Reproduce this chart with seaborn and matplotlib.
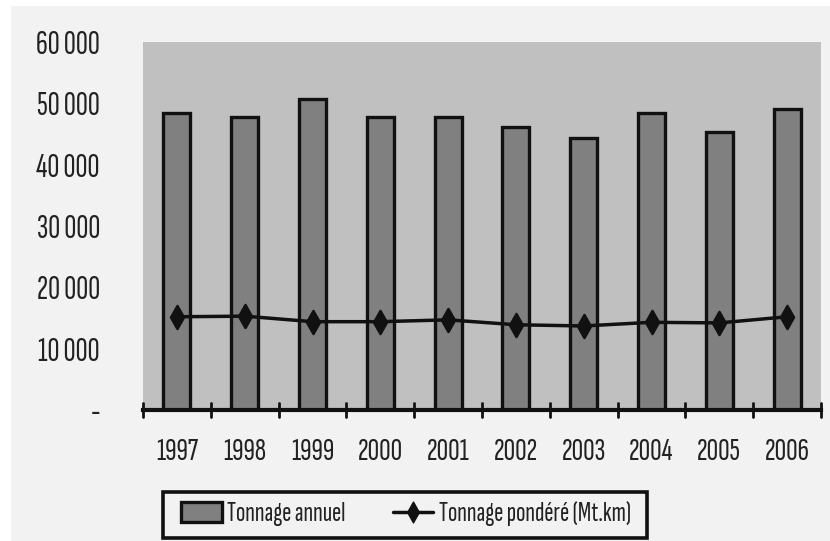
import matplotlib
matplotlib.use("Agg")
import matplotlib.pyplot as plt
import seaborn as sns
import pandas as pd
from matplotlib.patches import Rectangle, Patch
from matplotlib.lines import Line2D
from matplotlib.path import Path

years = ["1997", "1998", "1999", "2000", "2001", "2002", "2003", "2004", "2005", "2006"]
tonnage_annuel = [48400, 47800, 50700, 47800, 47800, 46100, 44300, 48400, 45300, 49100]
tonnage_pondere = [15200, 15300, 14400, 14400, 14700, 13900, 13700, 14300, 14200, 15200]
ytick_vals = [0, 10000, 20000, 30000, 40000, 50000, 60000]
ytick_labels = ["-", "10 000", "20 000", "30 000", "40 000", "50 000", "60 000"]

df = pd.DataFrame({"annee": years, "annuel": tonnage_annuel, "pondere": tonnage_pondere})

sns.set_theme(style="white")
plt.rcParams["font.family"] = ["Sofia Sans Extra Condensed", "DejaVu Sans"]

W, H = 830, 541
fig = plt.figure(figsize=(W / 100, H / 100), dpi=100, facecolor="white")
fig.patches.append(Rectangle((11 / W, 0), 1 - 11 / W, 1 - 6 / H,
                             transform=fig.transFigure, facecolor="#f2f2f2",
                             edgecolor="none", zorder=-10))
ax = fig.add_axes([143 / W, 1 - 410 / H, (821 - 143) / W, (410 - 42) / H])
ax.set_facecolor("#c0c0c0")

sns.barplot(data=df, x="annee", y="annuel", color="#808080", saturation=1,
            width=0.4, edgecolor="#111111", linewidth=2.4, ax=ax, zorder=2)
n_before = len(ax.lines)
sns.pointplot(data=df, x="annee", y="pondere", color="#111111",
              linewidth=2.5, ax=ax, zorder=3)
diamond = Path([(0, 1), (0.56, 0), (0, -1), (-0.56, 0), (0, 1)],
               [Path.MOVETO, Path.LINETO, Path.LINETO, Path.LINETO, Path.CLOSEPOLY])
for ln in ax.lines[n_before:]:
    ln.set_marker(diamond)
    ln.set_markersize(16.5)
    ln.set_markerfacecolor("#111111")
    ln.set_markeredgecolor("#111111")

ax.set_ylim(0, 60000)
ax.set_xlim(-0.5, 9.5)
ax.set_yticks(ytick_vals)
ax.set_yticklabels(ytick_labels, fontsize=24, color="#222222")
ax.tick_params(axis="y", length=0, pad=31)
ax.tick_params(axis="x", length=0, pad=20, labelsize=23, labelcolor="#222222")
ax.set_xlabel("")
ax.set_ylabel("")
for s in ["top", "right", "left"]:
    ax.spines[s].set_visible(False)
ax.spines["bottom"].set_color("#111111")
ax.spines["bottom"].set_linewidth(3)
ax.spines["bottom"].set_zorder(5)

# category boundary tick marks crossing the axis line
for b in [i - 0.5 for i in range(len(years) + 1)]:
    ax.plot([b, b], [-1150, 1150], color="#111111", lw=2, clip_on=False, zorder=6)

# legend
fig.patches.append(Rectangle((163 / W, 1 - 538 / H), (647 - 163) / W, (538 - 492) / H,
                             transform=fig.transFigure, facecolor="#f2f2f2",
                             edgecolor="#111111", linewidth=2.6, zorder=5))
handles = [Patch(facecolor="#808080", edgecolor="#111111", linewidth=2.4),
           Line2D([0], [0], color="#111111", lw=2.5, marker=diamond, markersize=15)]
leg = fig.legend(handles, ["Tonnage annuel", "Tonnage pondéré (Mt.km)"],
                 loc="center", bbox_to_anchor=(406 / W, 1 - 514 / H), ncol=2,
                 frameon=False, fontsize=20, handlelength=1.45, handleheight=0.75,
                 columnspacing=1.7, handletextpad=0.2, borderpad=0.2)
leg.set_zorder(6)
for t in leg.get_texts():
    t.set_color("#222222")

fig.savefig("out.png", dpi=100, facecolor=fig.get_facecolor())
